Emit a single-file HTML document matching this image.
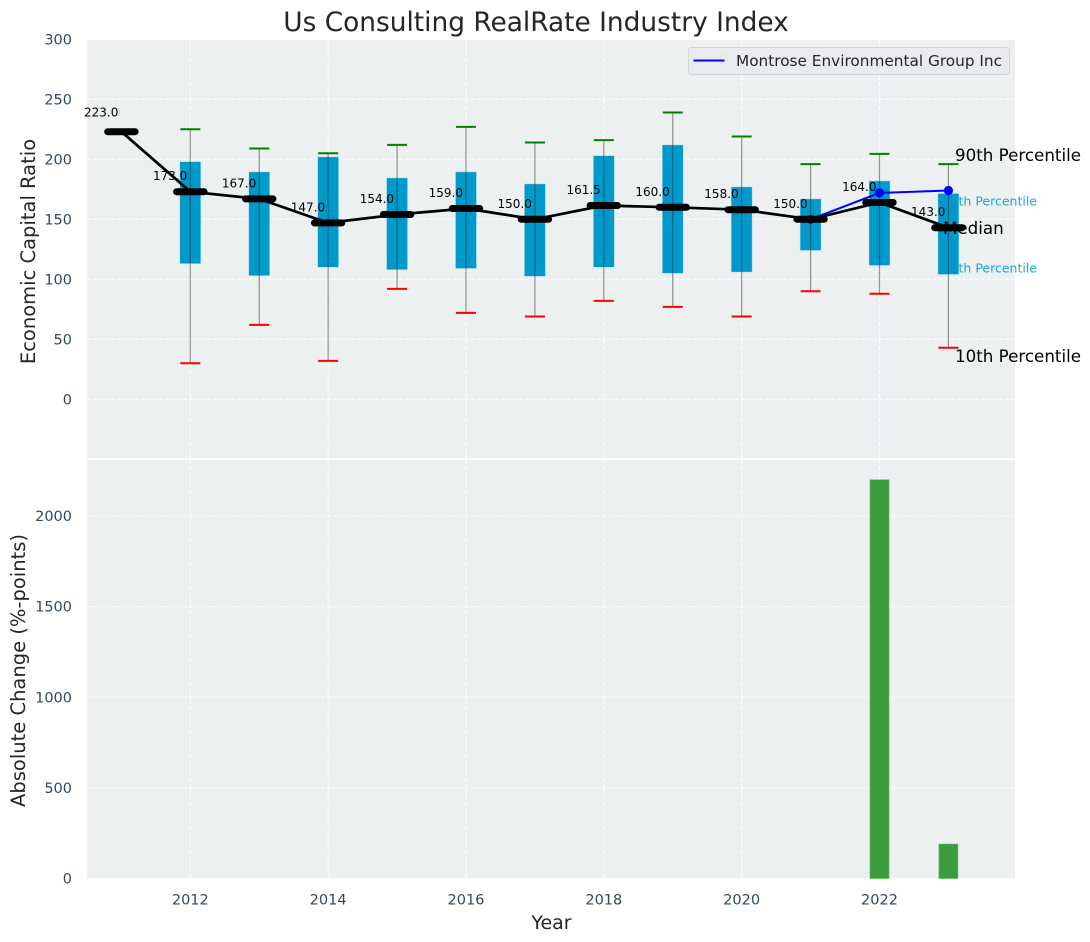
<!DOCTYPE html>
<html>
<head>
<meta charset="utf-8">
<style>
html,body{margin:0;padding:0;background:#fff;width:1090px;height:942px;overflow:hidden}
svg{display:block;font-family:"DejaVu Sans","Liberation Sans",sans-serif}
</style>
</head>
<body>
<svg id="chart" width="1090" height="942" viewBox="0 0 1090 942" xmlns="http://www.w3.org/2000/svg"></svg>
<script>
const medianYears = [2011,2012,2013,2014,2015,2016,2017,2018,2019,2020,2021,2022,2023];
const medianValues = [223,173,167,147,154,159,150,161.5,160,158,150,164,143];
const boxYears = [2012,2013,2014,2015,2016,2017,2018,2019,2020,2021,2022,2023];
const p90Values = [225,209,205,212,227,214,216,239,219,196,204.5,196];
const p75Values = [198,189.5,202,184.5,189.5,179.5,203,212,177,167,182,171.5];
const p25Values = [113,103,110,108,109,102.5,110,105,106,124,111.5,104];
const p10Values = [30,62,32,92,72,69,82,77,69,90,88,43];
const companyYears = [2021,2022,2023];
const companyValues = [150,172,174];
const changeYears = [2022,2023];
const changeValues = [2200,190];
const topTicks = [0,50,100,150,200,250,300];
const bottomTicks = [0,500,1000,1500,2000];
const yearTicks = [2012,2014,2016,2018,2020,2022];

const NS = 'http://www.w3.org/2000/svg';
const svg = document.getElementById('chart');
const L = 87, R = 1015, T1 = 40, B1 = 458.5, T2 = 460, B2 = 878.5;
function xPos(v){ return 190.3 + (v - 2012) * 68.92; }
function yTop(v){ return 399.3 - v * 1.2; }
function yBot(v){ return 878.5 - v * 0.18125; }
function mk(tag, attrs, parent){
  const el = document.createElementNS(NS, tag);
  for (const k in attrs) el.setAttribute(k, attrs[k]);
  (parent || svg).appendChild(el);
  return el;
}
function label(str, x, y, size, fill, anchor, rot){
  const yy = y + 1;
  const el = mk('text', {x:x, y:yy, 'font-size':size, fill:fill, 'text-anchor':anchor || 'start', 'dominant-baseline':'central'});
  if (rot) el.setAttribute('transform', 'rotate(' + rot + ' ' + x + ' ' + yy + ')');
  el.textContent = str;
  return el;
}

// panels
let el = mk('rect', {x:L, y:T1, width:R-L, height:B1-T1, fill:'#ecf0f1'});


el = mk('rect', {x:L, y:T2, width:R-L, height:B2-T2, fill:'#ecf0f1'});



// grids
const gridAttrs = {stroke:'#ffffff', 'stroke-width':1.1, 'stroke-dasharray':'4 2', opacity:0.9};
topTicks.forEach(function(t){
  const g = mk('line', Object.assign({x1:L, x2:R, y1:yTop(t), y2:yTop(t)}, gridAttrs));
  
  
  const tl = label(String(t), 72, yTop(t), 14.5, '#34495e', 'end');
  
  
});
bottomTicks.forEach(function(t){
  const g = mk('line', Object.assign({x1:L, x2:R, y1:yBot(t), y2:yBot(t)}, gridAttrs));
  
  
  const tl = label(String(t), 72, yBot(t), 14.5, '#34495e', 'end');
  
  
});
yearTicks.forEach(function(t){
  const g1 = mk('line', Object.assign({x1:xPos(t), x2:xPos(t), y1:T1, y2:B1}, gridAttrs));
  
  
  const g2 = mk('line', Object.assign({x1:xPos(t), x2:xPos(t), y1:T2, y2:B2}, gridAttrs));
  
  
  const tl = label(String(t), xPos(t), 899.5, 14.5, '#34495e', 'middle');
  
  
});

// cyan percentile labels sit beneath the last box
const lastBox = boxYears.length - 1;
el = label('75th Percentile', 1037, 200, 12.5, '#1ba6d3', 'end');


el = label('25th Percentile', 1037, 267, 12.5, '#1ba6d3', 'end');



// boxes
boxYears.forEach(function(yr, i){
  const x = xPos(yr);
  const b = mk('rect', {x:x-10.5, y:yTop(p75Values[i]), width:21, height:yTop(p25Values[i])-yTop(p75Values[i]), fill:'#0099cc', stroke:'#bfe3ef', 'stroke-width':0.6, 'stroke-opacity':0.8});
  
  
});

// whiskers and caps
boxYears.forEach(function(yr, i){
  const x = xPos(yr);
  const w = mk('line', {x1:x, x2:x, y1:yTop(p90Values[i]), y2:yTop(p10Values[i]), stroke:'#2f2f2f', 'stroke-width':1.2, 'stroke-opacity':0.5});
  
  
  const c1 = mk('line', {x1:x-10, x2:x+10, y1:yTop(p90Values[i]), y2:yTop(p90Values[i]), stroke:'#008000', 'stroke-width':2});
  
  
  const c2 = mk('line', {x1:x-10, x2:x+10, y1:yTop(p10Values[i]), y2:yTop(p10Values[i]), stroke:'#ff0000', 'stroke-width':2});
  
  
});

// black annotations over the boxes
el = label('90th Percentile', 955, yTop(p90Values[lastBox]) - 10, 16.7, '#000', 'start');


el = label('Median', 943, yTop(medianValues[medianValues.length-1]) - 0.7, 16.7, '#000', 'start');


el = label('10th Percentile', 955, yTop(p10Values[lastBox]) + 7.5, 16.7, '#000', 'start');



// company series
const companyPts = companyYears.map(function(y, i){ return xPos(y) + ',' + yTop(companyValues[i]); }).join(' ');
el = mk('polyline', {points:companyPts, fill:'none', stroke:'#0000ff', 'stroke-width':2});


companyYears.forEach(function(y, i){
  const p = mk('circle', {cx:xPos(y), cy:yTop(companyValues[i]), r:4.6, fill:'#0000ff'});
  
  
});

// median line and markers
const medianPts = medianYears.map(function(y, i){ return xPos(y) + ',' + yTop(medianValues[i]); }).join(' ');
el = mk('polyline', {points:medianPts, fill:'none', stroke:'#000', 'stroke-width':2.7});


medianYears.forEach(function(y, i){
  const x = xPos(y), v = yTop(medianValues[i]);
  const m = mk('line', {x1:x-13.7, x2:x+13.7, y1:v, y2:v, stroke:'#000', 'stroke-width':7, 'stroke-linecap':'round'});
  
  
  const off = i === 0 ? 20 : 16.5;
  const t = label(medianValues[i].toFixed(1), x - 3, v - off, 12, '#000', 'end');
  
  
});

// change bars
changeYears.forEach(function(y, i){
  const b = mk('rect', {x:xPos(y)-9.5, y:yBot(changeValues[i]), width:19, height:B2-yBot(changeValues[i]), fill:'#3a9c3f', stroke:'#5cb561', 'stroke-width':0.6});
  
  
});

// legend
el = mk('rect', {x:688.5, y:47.5, width:321, height:27, rx:3, fill:'#e9ebef', stroke:'#d2d4d7', 'stroke-width':1});


el = mk('line', {x1:693.5, x2:724.5, y1:60.5, y2:60.5, stroke:'#0000ff', 'stroke-width':2});


el = label('Montrose Environmental Group Inc', 736, 60, 15.3, '#262626', 'start');



// titles
el = label('Us Consulting RealRate Industry Index', 536, 21.5, 26.4, '#262626', 'middle');


el = label('Economic Capital Ratio', 28.5, 250.5, 19.5, '#262626', 'middle', -90);


el = label('Absolute Change (%-points)', 18.5, 669.5, 19.5, '#262626', 'middle', -90);


el = label('Year', 551.5, 922, 19, '#262626', 'middle');


</script>
</body>
</html>
